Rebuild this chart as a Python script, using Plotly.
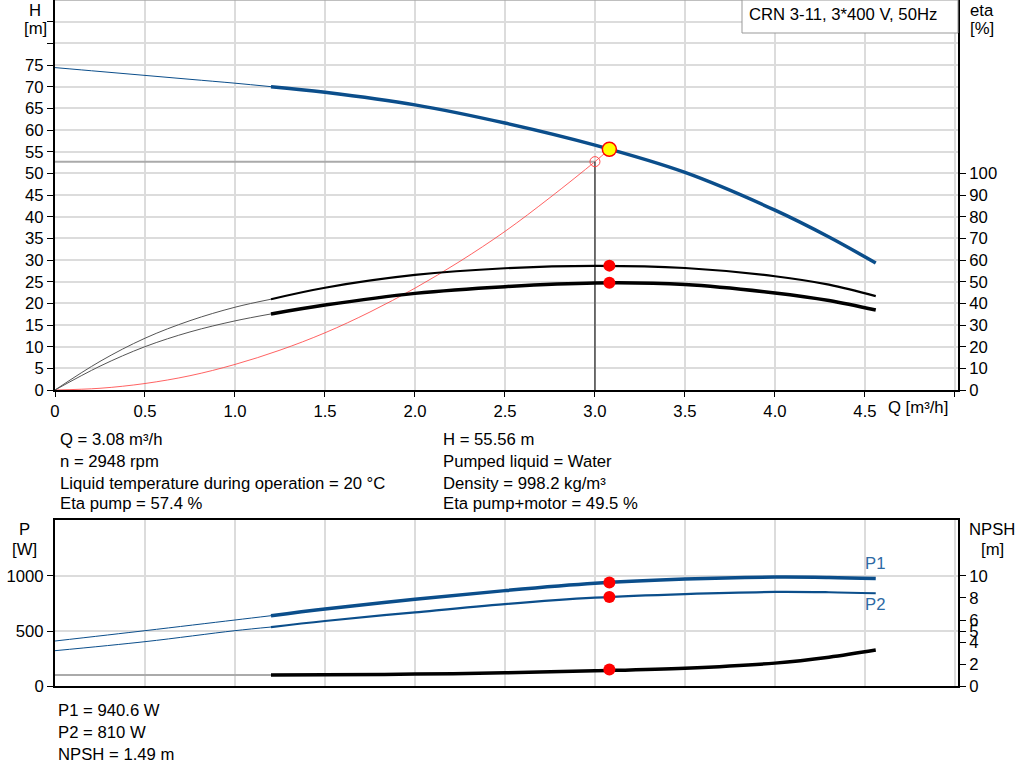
import plotly.graph_objects as go

# operating point / duty point
q_op = 3.08
h_op = 55.56
eta_pump_op = 57.4
eta_total_op = 49.5
p1_op = 940.6
p2_op = 810
npsh_op = 1.49
q_duty = 3.0
h_duty = 52.7

# flow values (m3/h): thin part below min flow, thick part in the run range
q_low = [0, 0.25, 0.5, 0.75, 1.0, 1.2]
q_run = [1.2, 1.5, 2.0, 2.5, 3.0, 3.5, 4.0, 4.3, 4.56]

h_low = [74.4, 73.5, 72.6, 71.7, 70.8, 70.0]
h_run = [70.0, 68.7, 65.8, 61.6, 56.5, 50.2, 41.5, 35.3, 29.3]

eta_pump_low = [0, 13.2, 23.9, 32.0, 38.2, 41.9]
eta_pump_run = [41.9, 47.2, 53.1, 56.2, 57.3, 56.3, 52.5, 48.6, 43.3]
eta_total_low = [0, 11.0, 20.0, 26.8, 31.9, 35.1]
eta_total_run = [35.1, 39.2, 44.6, 47.7, 49.4, 48.7, 44.8, 41.3, 36.9]

# system curve through the duty point
q_sys = [0, 0.25, 0.5, 0.75, 1.0, 1.25, 1.5, 1.75, 2.0, 2.25, 2.5, 2.75, 3.0, 3.08]
h_sys = [0, 0.4, 1.5, 3.3, 5.9, 9.2, 13.2, 18.0, 23.5, 29.7, 36.6, 44.4, 52.7, 55.56]

q_p_low = [0, 0.5, 1.0, 1.2]
p1_low = [409, 503, 600, 639]
p1_run = [639, 700, 788, 867, 933, 972, 990, 987, 978]
p2_low = [321, 403, 503, 536]
p2_run = [536, 591, 670, 745, 803, 836, 855, 852, 843]
q_npsh_low = [0, 1.2]
npsh_low = [1.0, 1.0]
npsh_run = [1.0, 1.02, 1.08, 1.2, 1.38, 1.62, 2.08, 2.62, 3.27]

q_ticks = [0, 0.5, 1.0, 1.5, 2.0, 2.5, 3.0, 3.5, 4.0, 4.5, 5.0]
q_labels = ['0', '0.5', '1.0', '1.5', '2.0', '2.5', '3.0', '3.5', '4.0', '4.5', '']
h_ticks = list(range(0, 90, 5))
h_labels = [str(v) if v <= 75 else '' for v in h_ticks]
eta_ticks = list(range(0, 110, 10))
p_ticks = [0, 500, 1000]
npsh_ticks = [0, 2, 4, 5, 6, 8, 10]

BLUE = '#0b4e8b'
FONT = 'Liberation Sans, Arial, sans-serif'
FS = 16.7

fig = go.Figure()


def line(x, y, color, width, xa='x', ya='y', shape='spline'):
    fig.add_trace(go.Scatter(x=x, y=y, mode='lines', xaxis=xa, yaxis=ya,
                             line=dict(color=color, width=width, shape=shape),
                             showlegend=False, hoverinfo='skip'))


# --- upper chart: H and eta ---
line(q_low, h_low, BLUE, 1)
line(q_run, h_run, BLUE, 3.5)
line(q_low, eta_pump_low, '#555555', 1, ya='y2')
line(q_run, eta_pump_run, 'black', 2.2, ya='y2')
line(q_low, eta_total_low, '#555555', 1, ya='y2')
line(q_run, eta_total_run, 'black', 3.5, ya='y2')
line(q_sys, h_sys, 'rgba(255,60,60,0.8)', 1)
line([0, q_duty], [h_duty, h_duty], '#aaaaaa', 2, shape='linear')
line([q_duty, q_duty], [0, h_duty], 'black', 1, shape='linear')

fig.add_trace(go.Scatter(x=[q_duty], y=[h_duty], mode='markers', showlegend=False,
                         marker=dict(size=10, color='rgba(0,0,0,0)',
                                     line=dict(color='rgba(255,60,60,0.9)', width=1))))
fig.add_trace(go.Scatter(x=[q_op], y=[h_op], mode='markers', showlegend=False,
                         marker=dict(size=14, color='#ffff00',
                                     line=dict(color='red', width=1.5))))
fig.add_trace(go.Scatter(x=[q_op, q_op], y=[eta_pump_op, eta_total_op], yaxis='y2',
                         mode='markers', showlegend=False,
                         marker=dict(size=12, color='red')))

# --- lower chart: P and NPSH ---
line(q_p_low, p1_low, BLUE, 1, xa='x2', ya='y3')
line(q_run, p1_run, BLUE, 3.5, xa='x2', ya='y3')
line(q_p_low, p2_low, BLUE, 1, xa='x2', ya='y3')
line(q_run, p2_run, BLUE, 2.2, xa='x2', ya='y3')
line(q_npsh_low, npsh_low, '#aaaaaa', 2, xa='x2', ya='y4', shape='linear')
line(q_run, npsh_run, 'black', 3.5, xa='x2', ya='y4')
fig.add_trace(go.Scatter(x=[q_op, q_op], y=[p1_op, p2_op], xaxis='x2', yaxis='y3',
                         mode='markers', showlegend=False,
                         marker=dict(size=12, color='red')))
fig.add_trace(go.Scatter(x=[q_op], y=[npsh_op], xaxis='x2', yaxis='y4',
                         mode='markers', showlegend=False,
                         marker=dict(size=12, color='red')))

# pixel helpers (plot area: x 55..958, y 0..686)
L, R, T, B = 55, 958, 0, 686


def px(x):
    return (x - L) / (R - L)


def py(y):
    return (B - y) / (B - T)


grid = dict(showgrid=True, gridcolor='#dcdcdc', gridwidth=1.5, zeroline=False)
axfont = dict(family=FONT, size=FS, color='black')

fig.update_layout(
    width=1024, height=781,
    margin=dict(l=L, r=1024 - R, t=T, b=781 - B),
    paper_bgcolor='white', plot_bgcolor='white',
    font=axfont,
    xaxis=dict(domain=[0, 1], anchor='y', range=[0, 5.017], tickvals=q_ticks,
               ticktext=q_labels, ticks='outside', ticklen=5, tickcolor='black',
               showline=True, linecolor='black', linewidth=2, **grid),
    yaxis=dict(domain=[py(390), 1], range=[0, 90], tickvals=h_ticks, ticktext=h_labels,
               ticks='outside', ticklen=6, tickcolor='black', showline=True,
               linecolor='black', linewidth=2, **grid),
    yaxis2=dict(overlaying='y', side='right', anchor='x', range=[0, 180],
                tickvals=eta_ticks, ticks='outside', ticklen=6, tickcolor='black',
                showline=True, linecolor='black', linewidth=2, showgrid=False,
                zeroline=False),
    xaxis2=dict(domain=[0, 1], anchor='y3', range=[0, 5.017], tickvals=q_ticks,
                showticklabels=False, showline=True, linecolor='black', linewidth=1.5,
                mirror=True, **grid),
    yaxis3=dict(domain=[0, py(520)], range=[0, 1509], tickvals=p_ticks,
                ticks='outside', ticklen=6, tickcolor='black', showline=True,
                linecolor='black', linewidth=2, **grid),
    yaxis4=dict(overlaying='y3', side='right', anchor='x2', range=[0, 15.09],
                tickvals=npsh_ticks, ticks='outside', ticklen=6, tickcolor='black',
                showline=True, linecolor='black', linewidth=2, showgrid=False,
                zeroline=False),
)

# top border of upper chart
fig.add_shape(type='line', xref='paper', yref='paper', x0=0, x1=1, y0=1, y1=1,
              line=dict(color='#aaaaaa', width=1.5))

# pump name box
fig.add_shape(type='rect', xref='paper', yref='paper', x0=px(742), x1=1,
              y0=py(33), y1=py(0), fillcolor='white', line=dict(color='#999999', width=1))


def text(x, y, s, anchor='left', color='black'):
    fig.add_annotation(x=px(x), y=py(y), xref='paper', yref='paper', text=s,
                       showarrow=False, xanchor=anchor, yanchor='middle',
                       font=dict(family=FONT, size=FS, color=color))


text(747, 15, 'CRN 3-11, 3*400 V, 50Hz')
text(35, 10, 'H', 'center')
text(35, 29, '[m]', 'center')
text(982, 10, 'eta', 'center')
text(982, 29, '[%]', 'center')
text(886, 407, 'Q [m³/h]')
text(25, 529, 'P', 'center')
text(25, 549, '[W]', 'center')
text(992, 529, 'NPSH', 'center')
text(992, 549, '[m]', 'center')
text(863, 563, 'P1', color='#2e6aa4')
text(863, 604, 'P2', color='#2e6aa4')

left_info = ['Q = 3.08 m³/h', 'n = 2948 rpm',
             'Liquid temperature during operation = 20 °C', 'Eta pump = 57.4 %']
right_info = ['H = 55.56 m', 'Pumped liquid = Water', 'Density = 998.2 kg/m³',
              'Eta pump+motor = 49.5 %']
rows = [439, 461, 483, 504]
for r, a, b in zip(rows, left_info, right_info):
    text(58, r, a)
    text(441, r, b)

bottom_info = ['P1 = 940.6 W', 'P2 = 810 W', 'NPSH = 1.49 m']
for r, s in zip([710, 732, 754], bottom_info):
    text(56, r, s)

fig.write_html("out.html", config={'displayModeBar': False},
               post_script="document.body.style.margin='0';")
